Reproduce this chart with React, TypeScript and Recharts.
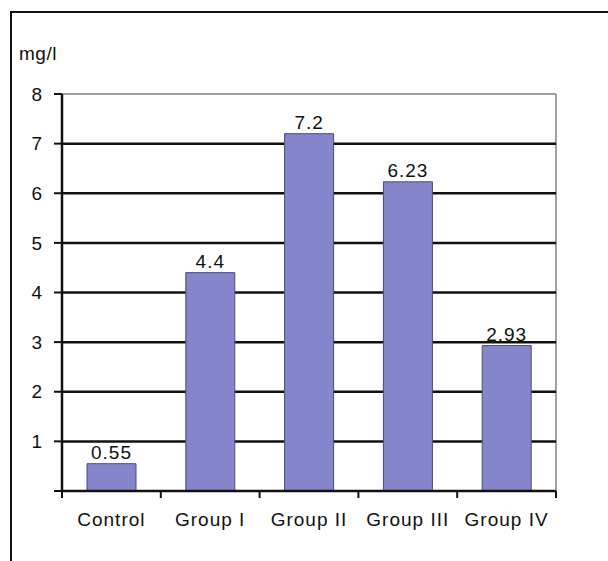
import { BarChart, Bar, XAxis, YAxis, CartesianGrid, LabelList, ReferenceLine } from 'recharts';

const groups = ['Control', 'Group I', 'Group II', 'Group III', 'Group IV'];
const levels = [0.55, 4.4, 7.2, 6.23, 2.93];
const yTicks = [0, 1, 2, 3, 4, 5, 6, 7, 8];
const gridValues = [1, 2, 3, 4, 5, 6, 7];

const data = groups.map((name, i) => ({ name, value: levels[i] }));

const font = 'Liberation Sans, Arial, sans-serif';
const LABEL_GAP = 22;

// category label plus the boundary tick mark between categories
function GroupTick(props: any) {
  const { x, y, payload, width, visibleTicksCount, index } = props;
  const half = width / visibleTicksCount / 2;
  const axisY = y - LABEL_GAP;
  return (
    <g>
      {index === 0 && <line x1={x - half} x2={x - half} y1={axisY} y2={axisY + 7} stroke="#111" strokeWidth={2} />}
      <line x1={x + half} x2={x + half} y1={axisY} y2={axisY + 7} stroke="#111" strokeWidth={2} />
      <text x={x} y={y} dy="0.71em" textAnchor="middle" fill="#111" fontSize={19} letterSpacing={1} fontFamily={font}>
        {payload.value}
      </text>
    </g>
  );
}

export default function App() {
  return (
    <div style={{ position: 'absolute', left: 0, top: 0, width: 608, height: 561, background: '#fff', fontFamily: font }}>
      <div
        style={{
          position: 'absolute',
          left: 10,
          top: 11,
          width: 598,
          height: 550,
          borderTop: '2px solid #111',
          borderLeft: '2px solid #111',
        }}
      />
      <div style={{ position: 'absolute', left: 19, top: 43, fontSize: 19, letterSpacing: 0.5, color: '#111' }}>mg/l</div>
      <BarChart
        width={608}
        height={561}
        data={data}
        margin={{ top: 94, right: 52, left: 12, bottom: 30 }}
        barSize={49}
      >
        <CartesianGrid
          horizontal={false}
          vertical
          verticalCoordinatesGenerator={({ offset }: any) => [offset.left + offset.width]}
          stroke="#8c7f78"
          strokeWidth={1.5}
        />
        <CartesianGrid horizontal vertical={false} horizontalValues={gridValues} stroke="#111" strokeWidth={2.5} />
        <XAxis
          dataKey="name"
          height={40}
          interval={0}
          tickLine={false}
          tickSize={0}
          tickMargin={LABEL_GAP}
          axisLine={{ stroke: '#111', strokeWidth: 2.5 }}
          tick={<GroupTick />}
        />
        <YAxis
          width={50}
          domain={[0, 8]}
          ticks={yTicks}
          interval={0}
          tickSize={8}
          tickMargin={12}
          tickFormatter={(v: number) => (v === 0 ? '' : String(v))}
          axisLine={{ stroke: '#111', strokeWidth: 2.5 }}
          tickLine={{ stroke: '#111', strokeWidth: 2 }}
          tick={{ fill: '#111', fontSize: 19, fontFamily: font }}
        />
        <ReferenceLine y={8} stroke="#8c7f78" strokeWidth={1.5} />
        <Bar dataKey="value" fill="#8585cc" stroke="#4a4a7a" strokeWidth={1} isAnimationActive={false}>
          <LabelList dataKey="value" position="top" offset={5} fill="#111" fontSize={19} letterSpacing={1} fontFamily={font} />
        </Bar>
      </BarChart>
    </div>
  );
}
